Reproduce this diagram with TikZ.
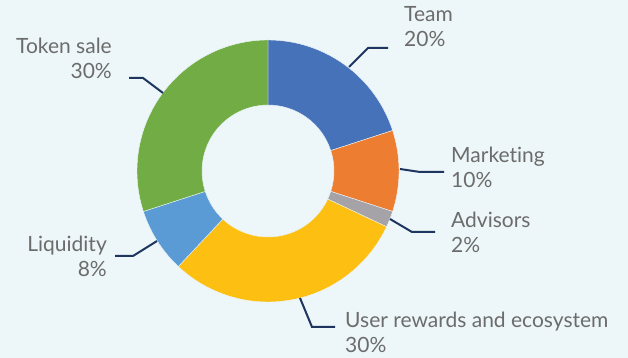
\documentclass[tikz,border=0pt]{standalone}
\usepackage{fontspec}
\setmainfont{Lato}[Ligatures={NoCommon}]
\definecolor{fond}{HTML}{EDF6F8}
\definecolor{bleu}{HTML}{4672BA}
\definecolor{orange}{HTML}{ED7D31}
\definecolor{gris}{HTML}{A5A3A8}
\definecolor{jaune}{HTML}{FDBF12}
\definecolor{bleuclair}{HTML}{5B9BD5}
\definecolor{vert}{HTML}{72AC45}
\definecolor{trait}{HTML}{1E3560}
\definecolor{texte}{HTML}{6C6C6C}

\begin{document}
\begin{tikzpicture}[x=1pt, y=1pt]
  \tikzstyle{etiquette}=[inner sep=0, text=texte, font=\fontsize{21}{25}\selectfont];
  \tikzstyle{repere}=[draw=trait, line width=2pt];
  \tikzstyle{part}=[draw=fond, line width=0.4pt];

  \fill[fond] (0,0) rectangle (628,358);
  \useasboundingbox (0,0) rectangle (628,358);

  \begin{scope}[shift={(268,187)}]
    \filldraw[part, fill=bleu] (90:131) arc[start angle=90, end angle=18, radius=131] -- (18:66) arc[start angle=18, end angle=90, radius=66] -- cycle;
    \filldraw[part, fill=orange] (18:131) arc[start angle=18, end angle=-18, radius=131] -- (-18:66) arc[start angle=-18, end angle=18, radius=66] -- cycle;
    \filldraw[part, fill=gris] (-18:131) arc[start angle=-18, end angle=-25.2, radius=131] -- (-25.2:66) arc[start angle=-25.2, end angle=-18, radius=66] -- cycle;
    \filldraw[part, fill=jaune] (-25.2:131) arc[start angle=-25.2, end angle=-133.2, radius=131] -- (-133.2:66) arc[start angle=-133.2, end angle=-25.2, radius=66] -- cycle;
    \filldraw[part, fill=bleuclair] (-133.2:131) arc[start angle=-133.2, end angle=-162, radius=131] -- (-162:66) arc[start angle=-162, end angle=-133.2, radius=66] -- cycle;
    \filldraw[part, fill=vert] (-162:131) arc[start angle=-162, end angle=-270, radius=131] -- (90:66) arc[start angle=90, end angle=198, radius=66] -- cycle;
  \end{scope}

  % points des reperes
  \coordinate (Ta) at (349,291);
  \coordinate (Tb) at (368,310);
  \coordinate (Tc) at (388,310);
  \coordinate (Ma) at (400,189);
  \coordinate (Mb) at (420,186);
  \coordinate (Mc) at (444,186);
  \coordinate (Aa) at (390,139);
  \coordinate (Ab) at (412,126);
  \coordinate (Ac) at (435,126);
  \coordinate (Ua) at (300,60);
  \coordinate (Ub) at (312,31);
  \coordinate (Uc) at (335,31);
  \coordinate (La) at (157,117);
  \coordinate (Lb) at (133,102);
  \coordinate (Lc) at (115,102);
  \coordinate (Sa) at (163,265);
  \coordinate (Sb) at (143,280);
  \coordinate (Sc) at (129,280);

  \draw[repere] (Ta) -- (Tb) -- (Tc);
  \draw[repere] (Ma) -- (Mb) -- (Mc);
  \draw[repere] (Aa) -- (Ab) -- (Ac);
  \draw[repere] (Ua) -- (Ub) -- (Uc);
  \draw[repere] (La) -- (Lb) -- (Lc);
  \draw[repere] (Sa) -- (Sb) -- (Sc);

  % etiquettes (ancre sur la ligne de base de la derniere ligne)
  \node[etiquette, anchor=base west, align=left] (team) at (404,311) {Team\\20\%};
  \node[etiquette, anchor=base west, align=left] (marketing) at (451,170) {Marketing\\10\%};
  \node[etiquette, anchor=base west, align=left] (advisors) at (451,105) {Advisors\\2\%};
  \node[etiquette, anchor=base west, align=left] (rewards) at (345,5) {User rewards and ecosystem\\30\%};
  \node[etiquette, anchor=base east, align=right] (liquidity) at (107,81) {Liquidity\\8\%};
  \node[etiquette, anchor=base east, align=right] (tokensale) at (112,279) {Token sale\\30\%};
\end{tikzpicture}
\end{document}
